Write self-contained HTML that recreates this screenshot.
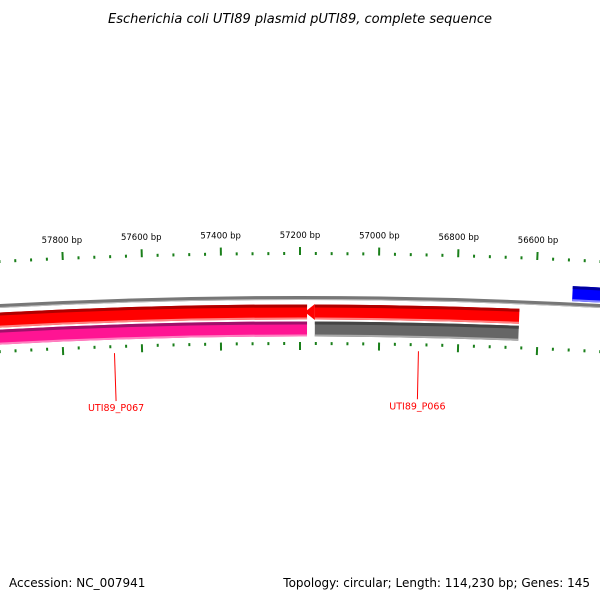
<!DOCTYPE html>
<html><head><meta charset="utf-8"><style>
body{margin:0;background:#fff;width:600px;height:600px;overflow:hidden}
text{font-family:"DejaVu Sans","Liberation Sans",sans-serif}
</style></head><body>
<svg id="map" width="600" height="600" xmlns="http://www.w3.org/2000/svg">
<text x="300" y="23" text-anchor="middle" font-size="13" font-style="italic" fill="#000">Escherichia coli UTI89 plasmid pUTI89, complete sequence</text>
<text x="9" y="587" font-size="12" fill="#000">Accession: NC_007941</text>
<text x="590" y="587" text-anchor="end" font-size="12" fill="#000">Topology: circular; Length: 114,230 bp; Genes: 145</text>
<g id="g"></g>
</svg>
<script>
const tickLabels=[57800,57600,57400,57200,57000,56800,56600];
const featStart=[58200,57162,58200,57162,56507];
const featEnd=[57182,56640,57182,56640,56000];
const featNames=['gene-p067-forward','gene-p066','cds-p067','cds-p066','gene-blue'];
const geneLabels=['UTI89_P067','UTI89_P066'];
const geneLabelBp=[57670,56900];
const R=5600,CX=300,CY=298+R,BP0=57200;
const g=document.getElementById('g');
const NS='http://www.w3.org/2000/svg';
function ang(bp,k){return (BP0-bp)*k/R;}
function pt(bp,r,k){const a=ang(bp,k);return [CX+r*Math.sin(a),CY-r*Math.cos(a)];}
function arc(b1,b2,r,k){const p=pt(b1,r,k),q=pt(b2,r,k);return `M${p[0]},${p[1]} A${r},${r} 0 0 1 ${q[0]},${q[1]}`;}
function mk(tag,at){const e=document.createElementNS(NS,tag);for(const k in at)e.setAttribute(k,at[k]);g.appendChild(e);return e;}
const K=0.3925;
// backbone
let e=mk('path',{d:arc(58500,55800,R,K),stroke:'#777',"stroke-width":4,fill:'none'});

e=mk('path',{d:arc(58500,55800,R-1.5,K),stroke:'#bbb',"stroke-width":1,fill:'none'});

// features
const fr=[[R-14,15,'#ff0000','#b00000','#ff8080'],[R-14,15,'#ff0000','#b00000','#ff8080'],[R-31,15,'#ff1493','#a0106a','#ff80c0'],[R-31,15,'#666666','#444','#aaa'],[R+11,15,'#0000ff','#0000a0','#8080ff']];
for(let i=0;i<featStart.length;i++){
 const [r,w,c,dk,lt]=fr[i];
 let s=featStart[i];
 e=mk('path',{d:arc(s,featEnd[i],r,K),stroke:c,"stroke-width":w,fill:'none'});
 
 e=mk('path',{d:arc(s,featEnd[i],r+w/2-1.5,K),stroke:dk,"stroke-width":3,fill:'none'});
 
 e=mk('path',{d:arc(s,featEnd[i],r-w/2+1,K),stroke:lt,"stroke-width":2,fill:'none'});
 
}
// arrowhead for P066
{const b=featStart[1],r=fr[1][0];const a=pt(b+8,r,K),t=pt(b,r+8,K),u=pt(b,r-8,K);
 e=mk('polygon',{points:`${a[0]-7},${a[1]} ${t[0]},${t[1]} ${u[0]},${u[1]}`,fill:'#ff0000'});
 }
// ticks
function ticks(r,dir,k,name){
 for(let bp=58600;bp>=55800;bp-=40){
  const maj=bp%200===0;const L=maj?8:3;
  const p=pt(bp,r,k),q=pt(bp,r+dir*L,k);
  e=mk('line',{x1:p[0],y1:p[1],x2:q[0],y2:q[1],stroke:'#1a7f1a',"stroke-width":maj?2:2});
  
 }
}
ticks(R+43,1,K,'outer-tick');
ticks(R-44,-1,0.3985,'inner-tick');
tickLabels.forEach(bp=>{const p=pt(bp,R+63,K);
 e=mk('text',{x:p[0],y:p[1]+3,"text-anchor":"middle","font-size":8.5,fill:'#000'});e.textContent=bp+' bp';
 });
geneLabels.forEach((t,i)=>{const p=pt(geneLabelBp[i],R-52,0.3985),q=pt(geneLabelBp[i],R-100,0.3985);
 e=mk('line',{x1:p[0],y1:p[1],x2:q[0],y2:q[1],stroke:'#ff0000',"stroke-width":1});
 
 e=mk('text',{x:q[0],y:q[1]+10,"text-anchor":"middle","font-size":9.5,fill:'#ff0000'});e.textContent=t;
 });
</script>
</body></html>
